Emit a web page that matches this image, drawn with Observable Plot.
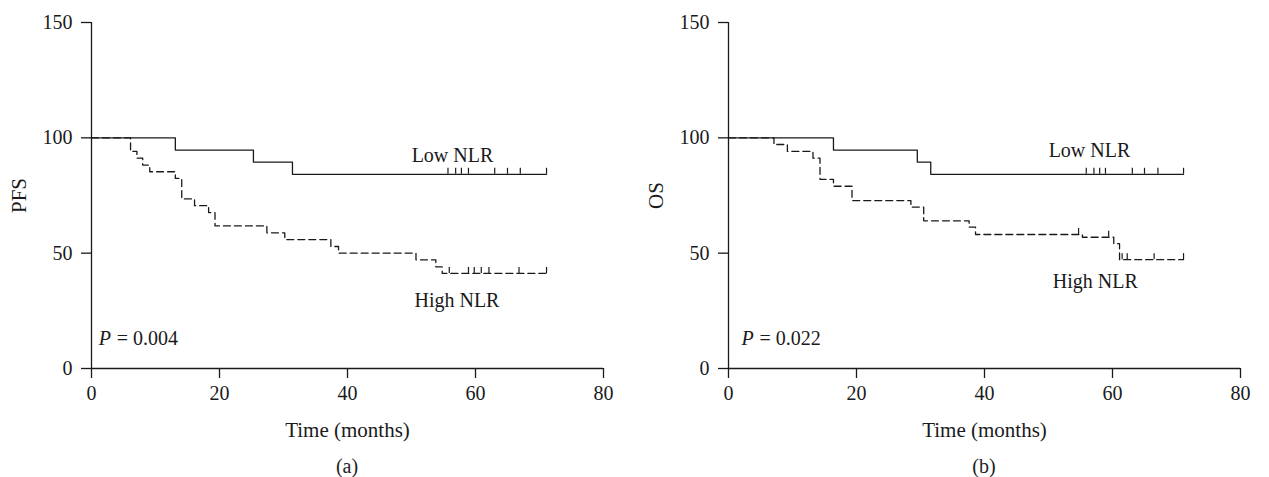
<!DOCTYPE html>
<html>
<head>
<meta charset="utf-8">
<script src="https://cdn.jsdelivr.net/npm/d3@7"></script>
<script src="https://cdn.jsdelivr.net/npm/@observablehq/plot@0.6"></script>
<style>
  body { margin: 0; background: #fff; }
  #wrap { display: flex; flex-direction: row; font-family: "Liberation Serif", serif; }
  .panel { position: relative; }
  .cap { font-family: "Liberation Serif", serif; font-size: 20px; color: #222; text-align: center; line-height: 22px; margin-top: 10px; }
  svg g[aria-label="x-axis label"] text, svg g[aria-label="y-axis label"] text { font-size: 21px; }
</style>
</head>
<body>
<div id="wrap">
  <div class="panel" id="pa"></div>
  <div class="panel" id="pb"></div>
</div>
<script>
// ---------- data ----------
const xTicks = [0, 20, 40, 60, 80];
const yTicks = [0, 50, 100, 150];

// Panel (a) PFS
const aLowT  = [0, 13.1, 25.3, 31.4, 71.1];
const aLowS  = [100, 94.7, 89.5, 84.2, 84.2];
const aLowCens = [55.7, 56.9, 57.8, 58.9, 63.0, 65.0, 67.0, 71.1];

const aHighT = [0, 6.1, 7.1, 8.0, 9.1, 13.1, 14.1, 16.1, 18.3, 19.3, 27.4, 30.2, 37.4, 38.6, 50.7, 53.8, 54.8, 71.1];
const aHighS = [100, 94.1, 91.2, 88.2, 85.3, 82.4, 73.5, 70.6, 67.6, 61.8, 58.8, 55.9, 52.9, 50.0, 47.1, 44.1, 41.2, 41.2];
const aHighCens = [55.9, 58.9, 59.8, 60.9, 62.1, 66.8, 71.1];

// Panel (b) OS
const bLowT  = [0, 16.4, 29.5, 31.6, 71.1];
const bLowS  = [100, 94.7, 89.5, 84.2, 84.2];
const bLowCens = [55.9, 57.1, 58.0, 58.9, 63.1, 65.0, 67.1, 71.1];

const bHighT = [0, 7.1, 9.2, 13.2, 14.3, 16.4, 19.3, 28.5, 30.5, 37.6, 38.6, 55.3, 60.2, 61.1, 71.1];
const bHighS = [100, 97.1, 94.1, 91.2, 82.0, 79.0, 72.8, 70.0, 64.0, 61.3, 58.1, 56.9, 54.1, 47.2, 47.2];
const bHighCens = [54.7, 59.4, 61.5, 62.3, 66.5, 71.1];

// annotations (data units)
const aLabels = [
  {text: "Low NLR", t: 56.4, s: 92.2},
  {text: "High NLR", t: 57.1, s: 29.5}
];
const bLabels = [
  {text: "Low NLR", t: 56.4, s: 94.3},
  {text: "High NLR", t: 57.3, s: 37.6}
];
const aP = {t: 1.13, s: 12.9, value: "= 0.004"};
const bP = {t: 2.03, s: 12.9, value: "= 0.022"};

// ---------- helpers ----------
function steps(ts, ss) { return ts.map((t, i) => ({t, s: ss[i]})); }
function survAt(ts, ss, t) {
  let v = ss[0];
  for (let i = 0; i < ts.length; i++) if (ts[i] <= t) v = ss[i];
  return v;
}
function cens(ts, ss, cs) { return cs.map(t => ({t, s: survAt(ts, ss, t)})); }

const INK = "#1a1a1a";

function panel({width, marginLeft, marginRight, ylabel, lowT, lowS, lowC, highT, highS, highC, labels, p}) {
  return Plot.plot({
    width, height: 445,
    marginLeft, marginRight, marginTop: 22, marginBottom: 77,
    style: {fontFamily: "Liberation Serif, serif", fontSize: "20px", color: INK, background: "#fff"},
    x: {domain: [0, 80]},
    y: {domain: [0, 150]},
    marks: [
      Plot.axisY({ticks: yTicks, tickSize: 10, tickPadding: 9, strokeWidth: 1.3, stroke: INK,
        label: ylabel, labelAnchor: "center", labelArrow: "none", labelOffset: 80}),
      Plot.axisX({ticks: xTicks, tickSize: 10, tickPadding: 7, strokeWidth: 1.3, stroke: INK,
        label: "Time (months)", labelAnchor: "center", labelArrow: "none", labelOffset: 68}),
      Plot.ruleX([0], {stroke: INK, strokeWidth: 1.3}),
      Plot.ruleY([0], {stroke: INK, strokeWidth: 1.3}),
      Plot.line(steps(highT, highS), {x: "t", y: "s", curve: "step-after", stroke: INK, strokeWidth: 1.3, strokeDasharray: "7,4"}),
      Plot.line(steps(lowT, lowS), {x: "t", y: "s", curve: "step-after", stroke: INK, strokeWidth: 1.3}),
      Plot.ruleX(cens(lowT, lowS, lowC), {x: "t", y1: "s", y2: d => d.s + 2.6, stroke: INK, strokeWidth: 1.2}),
      Plot.ruleX(cens(highT, highS, highC), {x: "t", y1: "s", y2: d => d.s + 2.6, stroke: INK, strokeWidth: 1.2}),
      Plot.text(labels, {x: "t", y: "s", text: "text", lineAnchor: "middle", fill: INK, fontSize: 20}),
      Plot.text([p], {x: "t", y: "s", text: () => "P", textAnchor: "start", lineAnchor: "middle", fill: INK, fontSize: 20, fontStyle: "italic"}),
      Plot.text([p], {x: "t", y: "s", text: "value", textAnchor: "start", lineAnchor: "middle", dx: 18, fill: INK, fontSize: 20})
    ]
  });
}

const a = panel({width: 634, marginLeft: 91, marginRight: 31, ylabel: "PFS",
  lowT: aLowT, lowS: aLowS, lowC: aLowCens, highT: aHighT, highS: aHighS, highC: aHighCens, labels: aLabels, p: aP});
const b = panel({width: 635, marginLeft: 94, marginRight: 29, ylabel: "OS",
  lowT: bLowT, lowS: bLowS, lowC: bLowCens, highT: bHighT, highS: bHighS, highC: bHighCens, labels: bLabels, p: bP});

function addCap(el, svg, text, ml, w) {
  el.appendChild(svg);
  const c = document.createElement("div");
  c.className = "cap";
  c.style.marginLeft = ml + "px";
  c.style.width = w + "px";
  c.textContent = text;
  el.appendChild(c);
}
addCap(document.getElementById("pa"), a, "(a)", 91, 512);
addCap(document.getElementById("pb"), b, "(b)", 94, 512);
</script>
</body>
</html>
